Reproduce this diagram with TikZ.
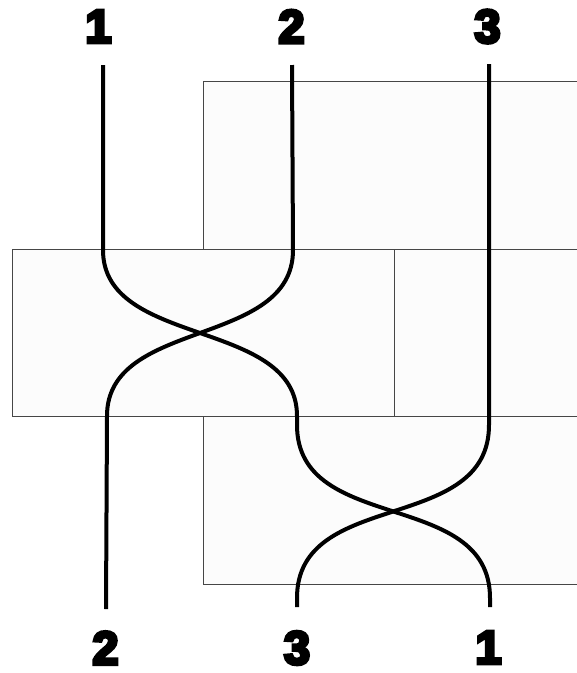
\documentclass[tikz,border=0pt]{standalone}
\usepackage{fontspec}
\newfontfamily\numfont[FakeBold=7]{Liberation Sans Bold}
\definecolor{boxfill}{RGB}{252,252,252}
\definecolor{boxline}{RGB}{70,70,70}
\tikzset{
  panelfill/.style={fill=boxfill},
  paneledge/.style={draw=boxline, line width=1pt},
  strand/.style={draw=black, line width=4pt},
  num/.style={font=\numfont\fontsize{47}{47}\selectfont, inner sep=0pt, text=black}
}
\begin{document}
\begin{tikzpicture}[x=1pt,y=-1pt]
\useasboundingbox (0,0) rectangle (577,673);
% panels (they run off the right edge)
\fill[panelfill] (203,81) rectangle (577,249);
\fill[panelfill] (12,249) rectangle (577,416);
\fill[panelfill] (203,416) rectangle (577,584);
\draw[paneledge] (577,81) -- (203,81) -- (203,249);
\draw[paneledge] (577,249) -- (12,249) -- (12,416) -- (577,416);
\draw[paneledge] (394,249) -- (394,416);
\draw[paneledge] (203,416) -- (203,584) -- (577,584);
% labels
\node[num] (t1) at (98.5,26.5) {1};
\node[num] (t2) at (291.5,26.5) {2};
\node[num] (t3) at (487.5,26.5) {3};
\node[num] (b2) at (105.5,648) {2};
\node[num] (b3) at (297,648) {3};
\node[num] (b1) at (488.5,647.5) {1};
% strand ends
\coordinate (s1top) at (103,65);
\coordinate (s2top) at (292,65);
\coordinate (s3top) at (489,64);
\coordinate (s2bot) at (106,609);
\coordinate (s3bot) at (297,607);
\coordinate (s1bot) at (490,607);
% strand 1
\draw[strand] (s1top) -- (103,250)
  .. controls (103,348) and (297,318) .. (297,416)
  -- (297,425)
  .. controls (297,535) and (490,488) .. (490,598)
  -- (s1bot);
% strand 2
\draw[strand] (s2top) -- (293,250)
  .. controls (293,348) and (107,318) .. (107,416)
  -- (s2bot);
% strand 3
\draw[strand] (s3top) -- (489,425)
  .. controls (489,535) and (297,488) .. (297,598)
  -- (s3bot);
\end{tikzpicture}
\end{document}
